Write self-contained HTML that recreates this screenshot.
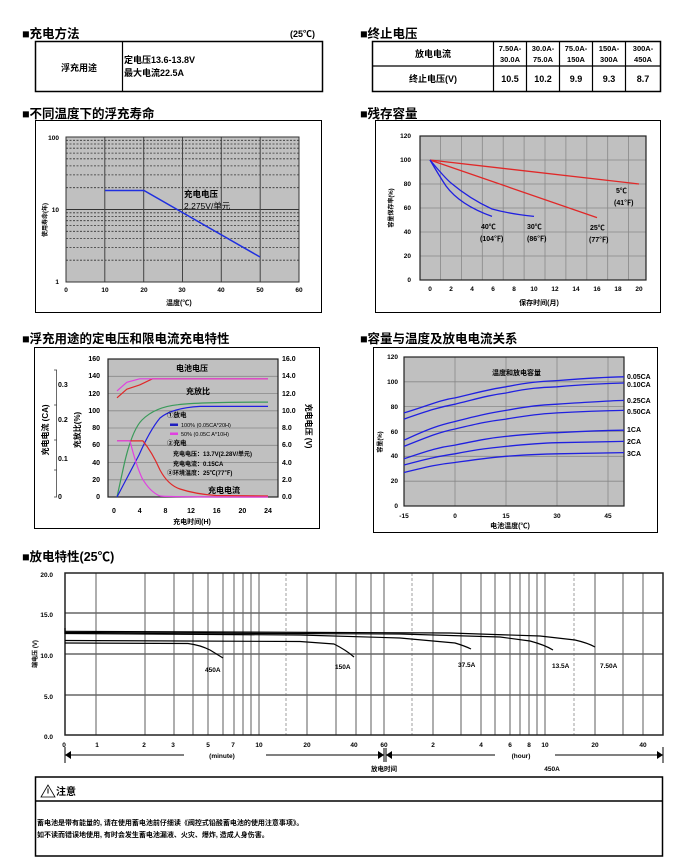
<!DOCTYPE html>
<html><head><meta charset="utf-8"><style>
html,body{margin:0;padding:0;background:#fff;}
svg{display:block;}
text{font-family:"Liberation Sans","Noto Sans CJK SC",sans-serif;font-weight:bold;fill:#000;}
</style></head><body>
<svg width="698" height="859" viewBox="0 0 698 859" xmlns="http://www.w3.org/2000/svg">
<!-- Section 1: charging method -->
<text x="22" y="38" font-size="12.5">■充电方法</text>
<text x="290" y="37" font-size="9">(25℃)</text>
<rect x="35.5" y="41.5" width="287" height="50" fill="none" stroke="#000" stroke-width="1.5"/>
<line x1="122.5" y1="41.5" x2="122.5" y2="91.5" stroke="#000" stroke-width="1.2"/>
<text x="79" y="71" font-size="9" text-anchor="middle">浮充用途</text>
<text x="124" y="63" font-size="9">定电压13.6-13.8V</text>
<text x="124" y="76" font-size="9">最大电流22.5A</text>

<!-- Section 2: end voltage -->
<text x="360" y="38" font-size="12.5">■终止电压</text>
<rect x="372.5" y="41.5" width="288" height="50" fill="none" stroke="#000" stroke-width="1.5"/>
<line x1="372.5" y1="66" x2="660.5" y2="66" stroke="#000" stroke-width="1.2"/>
<g stroke="#000" stroke-width="1.2">
<line x1="493.5" y1="41.5" x2="493.5" y2="91.5"/>
<line x1="526.5" y1="41.5" x2="526.5" y2="91.5"/>
<line x1="559.5" y1="41.5" x2="559.5" y2="91.5"/>
<line x1="592.5" y1="41.5" x2="592.5" y2="91.5"/>
<line x1="625.5" y1="41.5" x2="625.5" y2="91.5"/>
</g>
<text x="433" y="57" font-size="9" text-anchor="middle">放电电流</text>
<g font-size="7.5" text-anchor="middle">
<text x="510" y="51">7.50A-</text><text x="510" y="62">30.0A</text>
<text x="543" y="51">30.0A-</text><text x="543" y="62">75.0A</text>
<text x="576" y="51">75.0A-</text><text x="576" y="62">150A</text>
<text x="609" y="51">150A-</text><text x="609" y="62">300A</text>
<text x="643" y="51">300A-</text><text x="643" y="62">450A</text>
</g>
<text x="433" y="82" font-size="9" text-anchor="middle">终止电压(V)</text>
<g font-size="9" text-anchor="middle">
<text x="510" y="82">10.5</text><text x="543" y="82">10.2</text><text x="576" y="82">9.9</text><text x="609" y="82">9.3</text><text x="643" y="82">8.7</text>
</g>

<!-- Chart 1: float life -->
<text x="22" y="118" font-size="12.5">■不同温度下的浮充寿命</text>
<rect x="35.5" y="120.5" width="286" height="192" fill="none" stroke="#000" stroke-width="1"/>
<rect x="66" y="137" width="233" height="145" fill="#c0c0c0"/>
<g stroke="#333" stroke-width="0.8" stroke-dasharray="2,1.5">
<line x1="66" x2="299" y1="260.2" y2="260.2"/><line x1="66" x2="299" y1="247.4" y2="247.4"/><line x1="66" x2="299" y1="238.4" y2="238.4"/><line x1="66" x2="299" y1="231.3" y2="231.3"/><line x1="66" x2="299" y1="225.6" y2="225.6"/><line x1="66" x2="299" y1="220.7" y2="220.7"/><line x1="66" x2="299" y1="216.5" y2="216.5"/><line x1="66" x2="299" y1="212.8" y2="212.8"/>
<line x1="66" x2="299" y1="187.7" y2="187.7"/><line x1="66" x2="299" y1="174.9" y2="174.9"/><line x1="66" x2="299" y1="165.9" y2="165.9"/><line x1="66" x2="299" y1="158.8" y2="158.8"/><line x1="66" x2="299" y1="153.1" y2="153.1"/><line x1="66" x2="299" y1="148.2" y2="148.2"/><line x1="66" x2="299" y1="144" y2="144"/><line x1="66" x2="299" y1="140.3" y2="140.3"/>
</g>
<line x1="66" x2="299" y1="209.5" y2="209.5" stroke="#333" stroke-width="1"/>
<g stroke="#444" stroke-width="1">
<line x1="104.8" x2="104.8" y1="137" y2="282"/><line x1="143.7" x2="143.7" y1="137" y2="282"/><line x1="182.5" x2="182.5" y1="137" y2="282"/><line x1="221.3" x2="221.3" y1="137" y2="282"/><line x1="260.2" x2="260.2" y1="137" y2="282"/>
</g>
<rect x="66" y="137" width="233" height="145" fill="none" stroke="#333" stroke-width="1"/>
<polyline points="105,190.5 144,190.5 260,257" fill="none" stroke="#1f2fe0" stroke-width="1.5"/>
<text x="184" y="197" font-size="8.5">充电电压</text>
<text x="184" y="209" font-size="8.5" font-weight="normal" style="font-weight:normal">2.275V/单元</text>
<g font-size="6.5" text-anchor="middle">
<text x="66" y="292">0</text><text x="105" y="292">10</text><text x="144" y="292">20</text><text x="182" y="292">30</text><text x="221" y="292">40</text><text x="260" y="292">50</text><text x="299" y="292">60</text>
</g>
<g font-size="6.5" text-anchor="end"><text x="59" y="140">100</text><text x="59" y="212">10</text><text x="59" y="284">1</text></g>
<text x="166" y="305" font-size="7">温度(℃)</text>
<text transform="translate(47,220) rotate(-90)" font-size="6" text-anchor="middle">使用寿命(年)</text>

<!-- Chart 2: residual capacity -->
<text x="360" y="118" font-size="12.5">■残存容量</text>
<rect x="375.5" y="120.5" width="285" height="192" fill="none" stroke="#000" stroke-width="1"/>
<rect x="420" y="136" width="226" height="144" fill="#c0c0c0"/>
<g stroke="#888" stroke-width="0.8">
<line x1="420" x2="646" y1="256" y2="256"/><line x1="420" x2="646" y1="232" y2="232"/><line x1="420" x2="646" y1="208" y2="208"/><line x1="420" x2="646" y1="184" y2="184"/><line x1="420" x2="646" y1="160" y2="160"/>
<line x1="440.5" x2="440.5" y1="136" y2="280"/><line x1="461.4" x2="461.4" y1="136" y2="280"/><line x1="482.3" x2="482.3" y1="136" y2="280"/><line x1="503.2" x2="503.2" y1="136" y2="280"/><line x1="524.1" x2="524.1" y1="136" y2="280"/><line x1="545" x2="545" y1="136" y2="280"/><line x1="565.9" x2="565.9" y1="136" y2="280"/><line x1="586.8" x2="586.8" y1="136" y2="280"/><line x1="607.7" x2="607.7" y1="136" y2="280"/><line x1="628.6" x2="628.6" y1="136" y2="280"/>
</g>
<rect x="420" y="136" width="226" height="144" fill="none" stroke="#222" stroke-width="1.2"/>
<g fill="none" stroke-width="1.3">
<line x1="430" y1="160" x2="639" y2="184" stroke="#e02828"/>
<line x1="430" y1="160" x2="597" y2="217.6" stroke="#e02828"/>
<path d="M430,160 Q445,178 451,183 Q470,199 492,209 Q510,214 534,216.4" stroke="#2020e0"/>
<path d="M430,160 Q440,177 446,186 Q460,205 492,216.4" stroke="#2020e0"/>
</g>
<g font-size="6.5" text-anchor="middle">
<text x="430" y="291">0</text><text x="451" y="291">2</text><text x="472" y="291">4</text><text x="493" y="291">6</text><text x="514" y="291">8</text><text x="534" y="291">10</text><text x="555" y="291">12</text><text x="576" y="291">14</text><text x="597" y="291">16</text><text x="618" y="291">18</text><text x="639" y="291">20</text>
</g>
<g font-size="6.5" text-anchor="end">
<text x="411" y="282">0</text><text x="411" y="258">20</text><text x="411" y="234">40</text><text x="411" y="210">60</text><text x="411" y="186">80</text><text x="411" y="162">100</text><text x="411" y="138">120</text>
</g>
<text x="539" y="305" font-size="7" text-anchor="middle">保存时间(月)</text>
<text transform="translate(393,208) rotate(-90)" font-size="6" text-anchor="middle">容量保存率(%)</text>
<g font-size="7">
<text x="616" y="193">5℃</text><text x="614" y="205">(41℉)</text>
<text x="590" y="230">25℃</text><text x="589" y="242">(77℉)</text>
<text x="527" y="229">30℃</text><text x="527" y="241">(86℉)</text>
<text x="481" y="229">40℃</text><text x="480" y="241">(104℉)</text>
</g>

<!-- Chart 3: charge characteristics -->
<text x="22" y="343" font-size="12.5">■浮充用途的定电压和限电流充电特性</text>
<rect x="34.5" y="347.5" width="285" height="181" fill="none" stroke="#000" stroke-width="1"/>
<rect x="108" y="359" width="170" height="138" fill="#c0c0c0"/>
<g stroke="#888" stroke-width="0.8">
<line x1="108" x2="278" y1="479.8" y2="479.8"/><line x1="108" x2="278" y1="462.5" y2="462.5"/><line x1="108" x2="278" y1="445.3" y2="445.3"/><line x1="108" x2="278" y1="428" y2="428"/><line x1="108" x2="278" y1="410.8" y2="410.8"/><line x1="108" x2="278" y1="393.5" y2="393.5"/><line x1="108" x2="278" y1="376.3" y2="376.3"/>
</g>
<rect x="108" y="359" width="170" height="138" fill="none" stroke="#222" stroke-width="1.2"/>
<g fill="none" stroke-width="1.2" stroke-linejoin="round">
<polyline points="117,397.8 126.8,389.2 139.7,384.9 152.5,378.8 268,378.8" stroke="#e02828"/>
<polyline points="117,390.9 126.8,382.3 139.7,378.8 268,378.8" stroke="#e040e0"/>
<path d="M117,497 L124,465 Q132,430 142,420 Q155,407 178,404.7 Q200,402 268,402.1" stroke="#3a9a5a"/>
<path d="M117,497 L139,455 Q150,430 160,418 Q172,408 200,406.4 L268,406.4" stroke="#2020e0"/>
<path d="M117,440.9 L142.9,440.9 Q152,452 160,470 Q168,485 180,489 Q195,494 216,495.5 L268,496" stroke="#e02828"/>
<path d="M117,440.9 L130,440.9 Q136,465 142,478 Q150,492 160,496 Q165,497 268,497" stroke="#e040e0"/>
</g>
<text x="176" y="371" font-size="8">电池电压</text>
<text x="186" y="394" font-size="8">充放比</text>
<text x="167" y="417" font-size="6.5">①放电</text>
<rect x="170" y="423.5" width="8" height="2.5" fill="#2020c0"/>
<text x="181" y="427" font-size="5.5" style="font-weight:normal">100% (0.05CA*20H)</text>
<rect x="170" y="432.5" width="8" height="2.5" fill="#e040e0"/>
<text x="181" y="436" font-size="5.5" style="font-weight:normal">50% (0.05C A*10H)</text>
<text x="167" y="445" font-size="6.5">②充电</text>
<text x="173" y="456" font-size="6">充电电压：13.7V(2.28V/单元)</text>
<text x="173" y="466" font-size="6">充电电流：0.15CA</text>
<text x="167" y="475" font-size="6">③环境温度：25℃(77℉)</text>
<text x="208" y="493" font-size="8">充电电流</text>
<g font-size="7" text-anchor="end">
<text x="100" y="499">0</text><text x="100" y="482">20</text><text x="100" y="465">40</text><text x="100" y="447">60</text><text x="100" y="430">80</text><text x="100" y="413">100</text><text x="100" y="396">120</text><text x="100" y="378">140</text><text x="100" y="361">160</text>
</g>
<g font-size="7">
<text x="282" y="499">0.0</text><text x="282" y="482">2.0</text><text x="282" y="465">4.0</text><text x="282" y="447">6.0</text><text x="282" y="430">8.0</text><text x="282" y="413">10.0</text><text x="282" y="396">12.0</text><text x="282" y="378">14.0</text><text x="282" y="361">16.0</text>
</g>
<line x1="56.5" y1="370" x2="56.5" y2="497" stroke="#444" stroke-width="0.8"/>
<g stroke="#444" stroke-width="0.8"><line x1="54" x2="57" y1="370" y2="370"/><line x1="54" x2="57" y1="405" y2="405"/><line x1="54" x2="57" y1="440" y2="440"/><line x1="54" x2="57" y1="470" y2="470"/><line x1="54" x2="57" y1="497" y2="497"/></g>
<g font-size="7"><text x="58" y="387">0.3</text><text x="58" y="422">0.2</text><text x="58" y="461">0.1</text><text x="58" y="499">0</text></g>
<text transform="translate(48,430) rotate(-90)" font-size="8" text-anchor="middle">充电电流 (CA)</text>
<text transform="translate(80,430) rotate(-90)" font-size="8" text-anchor="middle">充放比(%)</text>
<text transform="translate(306,426) rotate(90)" font-size="8" text-anchor="middle">充电电压 (V)</text>
<g font-size="7" text-anchor="middle">
<text x="114" y="513">0</text><text x="139.7" y="513">4</text><text x="165.4" y="513">8</text><text x="191" y="513">12</text><text x="216.7" y="513">16</text><text x="242.4" y="513">20</text><text x="268" y="513">24</text>
</g>
<text x="192" y="524" font-size="7" text-anchor="middle">充电时间(H)</text>

<!-- Chart 4: capacity vs temperature -->
<text x="360" y="343" font-size="12.5">■容量与温度及放电电流关系</text>
<rect x="373.5" y="347.5" width="284" height="185" fill="none" stroke="#000" stroke-width="1"/>
<rect x="404" y="357" width="220" height="149" fill="#c0c0c0"/>
<g stroke="#888" stroke-width="0.8">
<line x1="404" x2="624" y1="481.2" y2="481.2"/><line x1="404" x2="624" y1="456.3" y2="456.3"/><line x1="404" x2="624" y1="431.5" y2="431.5"/><line x1="404" x2="624" y1="406.6" y2="406.6"/><line x1="404" x2="624" y1="381.8" y2="381.8"/>
<line x1="455" x2="455" y1="357" y2="506"/><line x1="506" x2="506" y1="357" y2="506"/><line x1="557" x2="557" y1="357" y2="506"/><line x1="608" x2="608" y1="357" y2="506"/>
</g>
<rect x="404" y="357" width="220" height="149" fill="none" stroke="#222" stroke-width="1.2"/>
<g fill="none" stroke="#2020e0" stroke-width="1.3">
<path d="M404,412.9 C430,405 440,400 455,397.9 C480,392 490,389 506,386.8 C530,382 540,381.5 557,380.6 C590,378 610,377 624,376.8"/>
<path d="M404,419.1 C430,410 440,407 455,404.2 C480,398 490,395 506,393 C530,388 540,387.5 557,386.8 C590,384 610,383.3 624,383"/>
<path d="M404,440.2 C430,428 440,425 455,421.5 C480,415 490,413 506,410.4 C530,406 540,405 557,404.2 C590,402 610,400.8 624,400.4"/>
<path d="M404,446.4 C430,436 440,432 455,429 C480,423 490,421 506,419.1 C530,415 540,414 557,412.9 C590,411 610,410.6 624,410.4"/>
<path d="M404,458.8 C430,450 440,447 455,445.1 C480,440 490,438 506,436.4 C530,434 540,433.2 557,432.7 C590,431 610,430.4 624,430.2"/>
<path d="M404,465 C430,458 440,456 455,453.8 C480,449 490,448 506,446.4 C530,444 540,443.2 557,442.7 C590,442 610,441.5 624,441.4"/>
<path d="M404,472.5 C430,466 440,464 455,462.5 C480,459 490,457.5 506,456.3 C530,454.5 540,454 557,453.8 C590,453 610,452.7 624,452.6"/>
</g>
<text x="492" y="375" font-size="7">温度和放电容量</text>
<g font-size="7">
<text x="627" y="379">0.05CA</text><text x="627" y="387">0.10CA</text><text x="627" y="403">0.25CA</text><text x="627" y="414">0.50CA</text><text x="627" y="432">1CA</text><text x="627" y="444">2CA</text><text x="627" y="456">3CA</text>
</g>
<g font-size="6.5" text-anchor="end">
<text x="398" y="508">0</text><text x="398" y="483">20</text><text x="398" y="458">40</text><text x="398" y="434">60</text><text x="398" y="409">80</text><text x="398" y="384">100</text><text x="398" y="359">120</text>
</g>
<g font-size="6.5" text-anchor="middle">
<text x="404" y="518">-15</text><text x="455" y="518">0</text><text x="506" y="518">15</text><text x="557" y="518">30</text><text x="608" y="518">45</text>
</g>
<text x="510" y="528" font-size="7" text-anchor="middle">电池温度(℃)</text>
<text transform="translate(382,442) rotate(-90)" font-size="6" text-anchor="middle">容量(%)</text>

<!-- Chart 5: discharge characteristics -->
<text x="22" y="561" font-size="12.5">■放电特性(25℃)</text>
<g stroke="#999" stroke-width="1.6">
<line x1="96" x2="96" y1="573" y2="735"/><line x1="145" x2="145" y1="573" y2="735"/><line x1="174" x2="174" y1="573" y2="735"/><line x1="193" x2="193" y1="573" y2="735"/><line x1="208" x2="208" y1="573" y2="735"/><line x1="223" x2="223" y1="573" y2="735"/><line x1="234" x2="234" y1="573" y2="735"/><line x1="243" x2="243" y1="573" y2="735"/><line x1="251" x2="251" y1="573" y2="735"/><line x1="259" x2="259" y1="573" y2="735"/>
<line x1="307" x2="307" y1="573" y2="735"/><line x1="336" x2="336" y1="573" y2="735"/><line x1="356" x2="356" y1="573" y2="735"/><line x1="371" x2="371" y1="573" y2="735"/><line x1="384" x2="384" y1="573" y2="735"/>
<line x1="433" x2="433" y1="573" y2="735"/><line x1="461" x2="461" y1="573" y2="735"/><line x1="481" x2="481" y1="573" y2="735"/><line x1="495" x2="495" y1="573" y2="735"/><line x1="510" x2="510" y1="573" y2="735"/><line x1="520" x2="520" y1="573" y2="735"/><line x1="529" x2="529" y1="573" y2="735"/><line x1="537" x2="537" y1="573" y2="735"/><line x1="545" x2="545" y1="573" y2="735"/>
<line x1="595" x2="595" y1="573" y2="735"/><line x1="623" x2="623" y1="573" y2="735"/><line x1="643" x2="643" y1="573" y2="735"/>
</g>
<g stroke="#888" stroke-width="0.8" stroke-dasharray="3,2">
<line x1="286" x2="286" y1="573" y2="735"/><line x1="412" x2="412" y1="573" y2="735"/><line x1="574" x2="574" y1="573" y2="735"/>
</g>
<g stroke="#666" stroke-width="1.5">
<line x1="65" x2="663" y1="613" y2="613"/><line x1="65" x2="663" y1="654" y2="654"/><line x1="65" x2="663" y1="695" y2="695"/>
</g>
<rect x="65" y="573" width="598" height="162" fill="none" stroke="#222" stroke-width="1.5"/>
<g fill="none" stroke="#000" stroke-width="1.2">
<line x1="65" y1="628" x2="65" y2="634"/>
<path d="M65,631.3 L450,633 L540,636 L575,640 Q588,643 595,647"/>
<path d="M65,632.5 L400,634 L500,637 L530,641 Q545,645 553,650"/>
<path d="M65,633.5 L300,635 L400,638 L455,643 Q465,646 471,649"/>
<path d="M65,640.5 L300,641.5 L334,644 Q346,650 354,657"/>
<path d="M65,643 L188,643.5 Q200,645 210,650 L223,658"/>
</g>
<g font-size="6.5">
<text x="205" y="672">450A</text><text x="335" y="669">150A</text><text x="458" y="667">37.5A</text><text x="552" y="668">13.5A</text><text x="600" y="668">7.50A</text>
</g>
<g font-size="6.5" text-anchor="end">
<text x="53" y="577">20.0</text><text x="53" y="617">15.0</text><text x="53" y="658">10.0</text><text x="53" y="699">5.0</text><text x="53" y="739">0.0</text>
</g>
<text transform="translate(37,654) rotate(-90)" font-size="6" text-anchor="middle">端电压 (V)</text>
<g font-size="6.5" text-anchor="middle">
<text x="64" y="747">0</text><text x="97" y="747">1</text><text x="144" y="747">2</text><text x="173" y="747">3</text><text x="208" y="747">5</text><text x="233" y="747">7</text><text x="259" y="747">10</text><text x="307" y="747">20</text><text x="354" y="747">40</text><text x="384" y="747">60</text>
<text x="433" y="747">2</text><text x="481" y="747">4</text><text x="510" y="747">6</text><text x="529" y="747">8</text><text x="545" y="747">10</text><text x="595" y="747">20</text><text x="643" y="747">40</text>
</g>
<g stroke="#000" stroke-width="1" fill="none">
<line x1="65" y1="747" x2="65" y2="763"/><line x1="663" y1="747" x2="663" y2="763"/>
<line x1="65" y1="755" x2="184" y2="755"/><line x1="266" y1="755" x2="384" y2="755"/>
<line x1="386" y1="755" x2="495" y2="755"/><line x1="555" y1="755" x2="663" y2="755"/>
<line x1="384" y1="748" x2="384" y2="762"/><line x1="386" y1="748" x2="386" y2="762"/>
</g>
<g fill="#000">
<polygon points="65,755 71,751 71,759"/><polygon points="384,755 378,751 378,759"/>
<polygon points="386,755 392,751 392,759"/><polygon points="663,755 657,751 657,759"/>
</g>
<text x="222" y="758" font-size="6.5" text-anchor="middle">(minute)</text>
<text x="521" y="758" font-size="6.5" text-anchor="middle">(hour)</text>
<text x="384" y="771" font-size="6.5" text-anchor="middle">放电时间</text>
<text x="552" y="771" font-size="6.5" text-anchor="middle">450A</text>

<!-- Caution box -->
<rect x="35.5" y="777" width="627" height="79" fill="none" stroke="#000" stroke-width="1.5"/>
<line x1="35.5" y1="801" x2="662.5" y2="801" stroke="#000" stroke-width="1.5"/>
<polygon points="48,785 41,797 55,797" fill="none" stroke="#000" stroke-width="0.8"/>
<line x1="48" y1="788.5" x2="48" y2="793.5" stroke="#000" stroke-width="1"/>
<text x="56" y="795" font-size="10">注意</text>
<text x="37" y="825" font-size="7">蓄电池是带有能量的, 请在使用蓄电池前仔细读《阀控式铅酸蓄电池的使用注意事项》。</text>
<text x="37" y="837" font-size="7">如不读而错误地使用, 有时会发生蓄电池漏液、火灾、爆炸, 造成人身伤害。</text>
</svg>
</body></html>
